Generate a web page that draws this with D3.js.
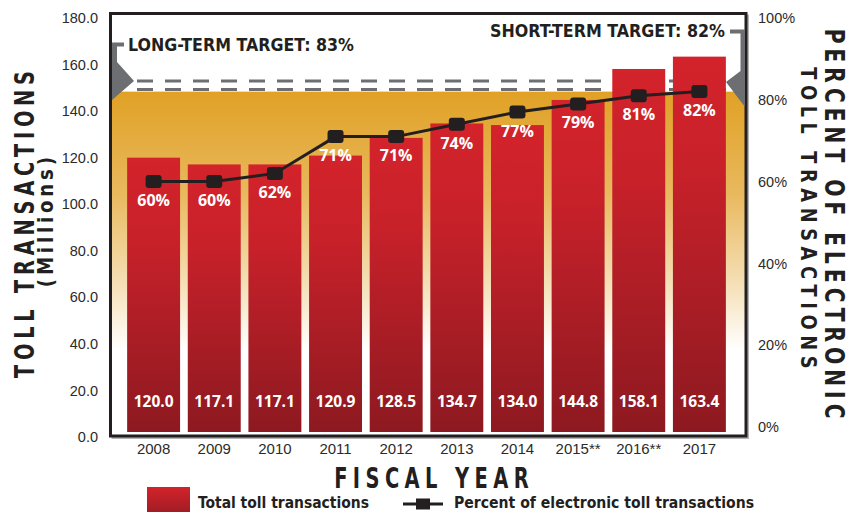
<!DOCTYPE html>
<html>
<head>
<meta charset="utf-8">
<script src="https://cdn.jsdelivr.net/npm/d3@7/dist/d3.min.js"></script>
<style>
  html, body { margin: 0; padding: 0; background: #fff; }
  svg { display: block; }
</style>
</head>
<body>
<svg id="chart" width="850" height="512"></svg>
<script>
// Fiscal years and toll transaction figures
const years = ["2008", "2009", "2010", "2011", "2012", "2013", "2014", "2015**", "2016**", "2017"];
const transactions = [120.0, 117.1, 117.1, 120.9, 128.5, 134.7, 134.0, 144.8, 158.1, 163.4];
const electronicPct = [60, 60, 62, 71, 71, 74, 77, 79, 81, 82];
const leftTicks = [0, 20, 40, 60, 80, 100, 120, 140, 160, 180];
const rightTicks = [0, 20, 40, 60, 80, 100];
const longTermTarget = 83;
const shortTermTarget = 82;

const ink = "#231f20";
const grey = "#6d6e71";
const condensed = "'Liberation Sans Narrow', 'DejaVu Sans Condensed', 'Liberation Sans', sans-serif";
const plain = "'Liberation Sans', Arial, sans-serif";
const labelFont = "'Open Sans', 'Liberation Sans', sans-serif";

const svg = d3.select("#chart");
const defs = svg.append("defs");

// frame of the plotting area
const frame = { x0: 110.5, y0: 13.5, x1: 746, y1: 436 };

const x = d3.scaleBand().domain(years).range([123.5, 729.5]).paddingInner(0.127).paddingOuter(0.06);
const y = d3.scaleLinear().domain([0, 180]).range([437, 18]);
const yPct = d3.scaleLinear().domain([0, 100]).range([427, 18]);

// gradients
const bg = defs.append("linearGradient").attr("id", "targetBand")
  .attr("gradientUnits", "userSpaceOnUse")
  .attr("x1", 0).attr("x2", 0).attr("y1", yPct(shortTermTarget)).attr("y2", 350);
bg.append("stop").attr("offset", 0).attr("stop-color", "#e0a125");
bg.append("stop").attr("offset", 0.4).attr("stop-color", "#e9b95f");
bg.append("stop").attr("offset", 0.75).attr("stop-color", "#f5e0b8");
bg.append("stop").attr("offset", 1).attr("stop-color", "#ffffff");

const barGrad = defs.append("linearGradient").attr("id", "barGrad")
  .attr("x1", 0).attr("x2", 0).attr("y1", 0).attr("y2", 1);
barGrad.append("stop").attr("offset", 0).attr("stop-color", "#d3232b");
barGrad.append("stop").attr("offset", 0.3).attr("stop-color", "#c8212a");
barGrad.append("stop").attr("offset", 1).attr("stop-color", "#8d1920");

// soft shadow under the frame
svg.append("rect")
  .attr("x", frame.x0 + 2).attr("y", frame.y0 + 2)
  .attr("width", frame.x1 - frame.x0).attr("height", frame.y1 - frame.y0)
  .attr("fill", "none").attr("stroke", "#b5b5b5").attr("stroke-width", 2);

svg.append("rect")
  .attr("x", frame.x0).attr("y", frame.y0)
  .attr("width", frame.x1 - frame.x0).attr("height", frame.y1 - frame.y0)
  .attr("fill", "#fff");

// band below the short-term target
const bandTop = yPct(shortTermTarget);
svg.append("rect")
  .attr("x", frame.x0).attr("y", bandTop)
  .attr("width", frame.x1 - frame.x0).attr("height", frame.y1 - bandTop)
  .attr("fill", "url(#targetBand)");

// double dashed target rule
const dashLow = bandTop - 2;
const dashHigh = bandTop - 10.5;
[dashHigh, dashLow].forEach(yy => {
  svg.append("line")
    .attr("x1", 137).attr("x2", 726).attr("y1", yy).attr("y2", yy)
    .attr("stroke", grey).attr("stroke-width", 3)
    .attr("stroke-dasharray", "16 12");
});

// bars
const barBottom = y(0) - 5;
svg.append("g").selectAll("rect")
  .data(years)
  .join("rect")
  .attr("x", d => x(d))
  .attr("y", (d, i) => y(transactions[i]))
  .attr("width", x.bandwidth())
  .attr("height", (d, i) => barBottom - y(transactions[i]))
  .attr("fill", "url(#barGrad)");

// bar value labels
svg.append("g").selectAll("text")
  .data(years)
  .join("text")
  .attr("x", d => x(d) + x.bandwidth() / 2)
  .attr("y", 402)
  .attr("dy", "0.35em")
  .attr("text-anchor", "middle")
  .attr("font-family", labelFont).attr("font-weight", 700).attr("font-size", 15.5)
  .attr("fill", "#fff")
  .text((d, i) => transactions[i].toFixed(1));

// electronic share line
const cx = d => x(d) + x.bandwidth() / 2;
const line = d3.line().x((d, i) => cx(years[i])).y(d => yPct(d));
svg.append("path")
  .datum(electronicPct)
  .attr("d", line)
  .attr("fill", "none").attr("stroke", ink).attr("stroke-width", 3);

svg.append("g").selectAll("rect")
  .data(electronicPct)
  .join("rect")
  .attr("x", (d, i) => cx(years[i]) - 8)
  .attr("y", d => yPct(d) - 6.5)
  .attr("width", 16).attr("height", 13).attr("rx", 3)
  .attr("fill", ink);

svg.append("g").selectAll("text")
  .data(electronicPct)
  .join("text")
  .attr("x", (d, i) => cx(years[i]))
  .attr("y", d => yPct(d) + 19)
  .attr("dy", "0.35em")
  .attr("text-anchor", "middle")
  .attr("font-family", labelFont).attr("font-weight", 700).attr("font-size", 16)
  .attr("fill", "#fff")
  .text(d => d + "%");

// frame outline
svg.append("rect")
  .attr("x", frame.x0).attr("y", frame.y0)
  .attr("width", frame.x1 - frame.x0).attr("height", frame.y1 - frame.y0)
  .attr("fill", "none").attr("stroke", ink).attr("stroke-width", 3);

// long-term target bracket and marker
svg.append("path")
  .attr("d", `M112,42.5 H124 V46.5 H117 V62 L134,${dashHigh} L112,100 Z`)
  .attr("fill", grey);
// short-term target bracket and marker
svg.append("path")
  .attr("d", `M730,29.5 H745 V107 L726,${dashHigh + 1} L740.5,71 V33.5 H730 Z`)
  .attr("fill", grey);

svg.append("text")
  .attr("x", 128).attr("y", 45).attr("dy", "0.36em")
  .attr("font-family", condensed).attr("font-weight", 700).attr("font-size", 18)
  .attr("fill", ink)
  .attr("textLength", 226).attr("lengthAdjust", "spacingAndGlyphs")
  .text(`LONG-TERM TARGET: ${longTermTarget}%`);
svg.append("text")
  .attr("x", 725).attr("y", 31).attr("dy", "0.36em")
  .attr("text-anchor", "end")
  .attr("font-family", condensed).attr("font-weight", 700).attr("font-size", 18)
  .attr("fill", ink)
  .attr("textLength", 235).attr("lengthAdjust", "spacingAndGlyphs")
  .text(`SHORT-TERM TARGET: ${shortTermTarget}%`);

// axes
const leftAxis = svg.append("g")
  .attr("transform", "translate(102,0)")
  .call(d3.axisLeft(y).tickValues(leftTicks).tickFormat(d3.format(".1f")).tickSize(0).tickPadding(4));
const rightAxis = svg.append("g")
  .attr("transform", "translate(754,0)")
  .call(d3.axisRight(yPct).tickValues(rightTicks).tickFormat(d => d + "%").tickSize(0).tickPadding(4));
const bottomAxis = svg.append("g")
  .attr("transform", `translate(0,${frame.y1})`)
  .call(d3.axisBottom(x).tickSize(0).tickPadding(7));

[leftAxis, rightAxis, bottomAxis].forEach(g => {
  g.select(".domain").remove();
  g.selectAll("text")
    .attr("font-family", plain).attr("font-size", 14.5).attr("fill", "#2b2b2b");
});
bottomAxis.selectAll("text").attr("font-size", 15);

// letter-spaced titles, scaled along their run to a set length
function spacedTitle(opts) {
  const g = svg.append("g").attr("transform", opts.transform);
  const t = g.append("text")
    .attr("dy", "0.36em").attr("text-anchor", "middle")
    .attr("font-family", condensed).attr("font-weight", 700)
    .attr("font-size", opts.size)
    .style("letter-spacing", opts.spacing + "px")
    .attr("fill", ink)
    .text(opts.text);
  const natural = t.node().getComputedTextLength();
  t.attr("x", opts.spacing / 2 * (opts.length / natural))
   .attr("transform", `scale(${opts.length / natural},1)`);
  return t;
}

spacedTitle({ transform: "translate(432,478)", size: 28, spacing: 7, length: 200, text: "FISCAL YEAR" });
spacedTitle({ transform: "translate(24,224) rotate(-90)", size: 27, spacing: 6, length: 312, text: "TOLL TRANSACTIONS" });
spacedTitle({ transform: "translate(45,222) rotate(-90)", size: 21, spacing: 4, length: 134, text: "(Millions)" });
spacedTitle({ transform: "translate(835,224) rotate(90)", size: 27, spacing: 6, length: 395, text: "PERCENT OF ELECTRONIC" });
spacedTitle({ transform: "translate(809,218) rotate(90)", size: 21, spacing: 6, length: 307, text: "TOLL TRANSACTIONS" });

// legend
const legGrad = defs.append("linearGradient").attr("id", "legGrad")
  .attr("x1", 0).attr("x2", 0).attr("y1", 0).attr("y2", 1);
legGrad.append("stop").attr("offset", 0).attr("stop-color", "#d3232b");
legGrad.append("stop").attr("offset", 1).attr("stop-color", "#981b23");
svg.append("rect")
  .attr("x", 147).attr("y", 487).attr("width", 43).attr("height", 30)
  .attr("fill", "url(#legGrad)");
svg.append("text")
  .attr("x", 198).attr("y", 508)
  .attr("font-family", condensed).attr("font-weight", 700).attr("font-size", 16)
  .attr("fill", ink)
  .attr("textLength", 171).attr("lengthAdjust", "spacingAndGlyphs")
  .text("Total toll transactions");

svg.append("line")
  .attr("x1", 403).attr("x2", 443).attr("y1", 504).attr("y2", 504)
  .attr("stroke", ink).attr("stroke-width", 3);
svg.append("rect")
  .attr("x", 416).attr("y", 498.5).attr("width", 14).attr("height", 11)
  .attr("fill", ink);
svg.append("text")
  .attr("x", 454).attr("y", 508)
  .attr("font-family", condensed).attr("font-weight", 700).attr("font-size", 16)
  .attr("fill", ink)
  .attr("textLength", 300).attr("lengthAdjust", "spacingAndGlyphs")
  .text("Percent of electronic toll transactions");
</script>
</body>
</html>
